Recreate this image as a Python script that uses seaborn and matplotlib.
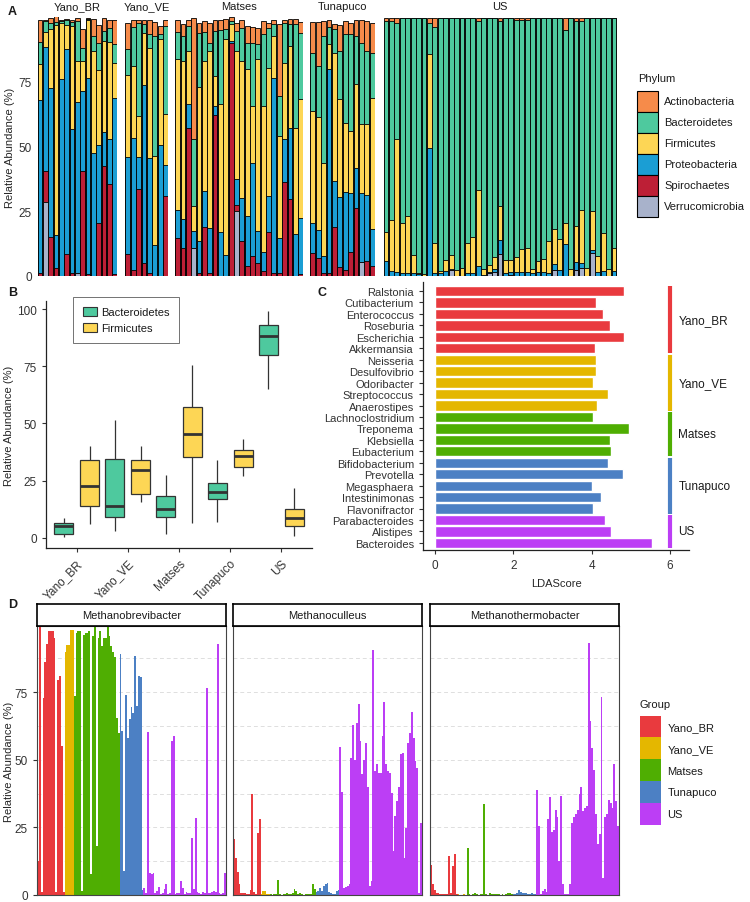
import matplotlib
matplotlib.use("Agg")
import matplotlib.pyplot as plt
from matplotlib.patches import Patch
import numpy as np
import pandas as pd
import seaborn as sns

groups = ["Yano_BR", "Yano_VE", "Matses", "Tunapuco", "US"]
group_colors = ["#E93A3E", "#E4B700", "#4FAE02", "#4C80C4", "#BC3EF5"]

phyla = ["Actinobacteria", "Bacteroidetes", "Firmicutes", "Proteobacteria", "Spirochaetes", "Verrucomicrobia"]
phylum_colors = ["#F68B4A", "#4EC99E", "#FDD655", "#1B9ED4", "#BD1F36", "#A8B2CB"]

# ---- panel A: per-sample phylum abundance (samples per group: 15, 8, 24, 12, 43)
a_sizes = [15, 8, 24, 12, 43]
verruco = ([0, 28.7, 0, 0, 0, 0, 0, 1, 0, 0, 0, 0, 0, 0, 0]
           + [0, 0, 0, 0, 0, 0, 0, 0]
           + [0, 0, 0, 11, 0, 0, 0, 0, 0, 0, 0, 25, 0, 0, 0, 0, 0, 0, 0, 0, 0, 0, 0, 0]
           + [0, 0, 0, 0, 0, 0, 0, 0, 0, 5.4, 0, 0]
           + [0, 0, 0, 0, 0, 0, 0, 0, 0, 0, 0, 0, 2.3, 0, 0, 0, 0, 0, 0, 1, 1.5, 8.4, 0, 0.5, 0, 0,
              0, 0, 0, 0, 0, 2.3, 0, 0, 0, 2.3, 3.2, 0, 8.8, 0, 0, 0, 0])
spiro = ([1, 11.8, 15, 3, 0, 8.6, 1.3, 0, 40.5, 0.6, 0, 20.6, 42.5, 35.4, 0.6]
         + [8.4, 2.3, 33.7, 4.9, 1.3, 0, 0, 30.9]
         + [14.8, 10.7, 57.3, 0, 1.3, 19, 1, 62, 0, 0, 89.8, 2.3, 13.5, 3.9, 7.7, 5.1, 1.9, 17, 1, 1.3,
            36.3, 29.6, 0, 0.6]
         + [8.8, 7, 1, 1.3, 19, 3.5, 2.3, 9.3, 26.4, 0, 5.8, 3.9]
         + [0] * 43)
proteo = ([67, 47.9, 57.7, 13, 76, 78.9, 55.3, 66, 30.9, 76, 47.6, 30, 13.1, 17.4, 68]
          + [37.6, 51.1, 12.3, 68.8, 44.1, 11.8, 50.5, 12.1]
          + [10.6, 11.2, 9, 6.4, 12.2, 13.8, 17.7, 3.6, 17, 8, 0.9, 10, 16.7, 19.3, 36.1, 12.3, 7.4, 13.9,
             75.6, 13.5, 16.5, 27.7, 16.1, 21.9]
          + [11.8, 10.6, 6.7, 78.5, 17.7, 27.1, 30.1, 22.9, 15.4, 26.8, 25.5, 14.1]
          + [5.8, 2, 1.5, 1, 1, 1, 0.6, 0, 49.5, 1.3, 1, 2, 0.5, 0, 0, 1.3, 1.3, 3.9, 0.5, 0.5, 1.3, 5.5,
             1.3, 1, 1.5, 1.5, 1.5, 1.3, 1.5, 1.5, 1, 2.2, 2.3, 12.2, 0, 3.1, 1.9, 0, 1.2, 1.5, 2, 0, 2])
firmi = ([14, 5.9, 22.8, 81, 21.5, 9.5, 39.9, 16, 11.6, 22.2, 39.3, 28.8, 35.1, 37.7, 13.8]
         + [31.5, 27.6, 15.8, 20, 42.6, 34.5, 40.9, 19.4]
         + [58.3, 61.1, 20.6, 9.6, 59.6, 50.2, 68.2, 11.6, 49.5, 83.4, 6.5, 49.6, 52.8, 56.6, 21.8, 66.3,
            56.3, 49.5, 16.1, 39.2, 29.6, 31.5, 41.2, 46]
         + [43.1, 43.9, 36.1, 9.6, 49.5, 37.6, 26.8, 23.8, 32.2, 26.4, 27.3, 50.9]
         + [11.2, 19.6, 51.3, 19.3, 22.2, 7, 0.7, 0.6, 36.1, 11.3, 1, 4.2, 5.2, 2.3, 3.2, 11.6, 13.7, 29.3,
            2.1, 2.6, 4.7, 13.1, 4.9, 4.7, 6, 9.1, 9.4, 1.5, 4.3, 5.2, 12.5, 13.8, 12.1, 8.4, 2.8, 13.9,
            20.4, 3.2, 15, 6.2, 14.7, 2.6, 8.9])
bactero = ([8.5, 4.2, 2.3, 1, 1, 2, 1.5, 15.5, 5, 0.5, 5.8, 10.6, 3.9, 5.4, 7.3]
           + [10.3, 15, 36, 3.7, 5.3, 46.2, 2, 34.1]
           + [10.6, 9.7, 9.6, 25.8, 20.9, 11.3, 3.1, 17.4, 28.5, 3.8, 1.3, 7.7, 12.9, 10.2, 24.4, 5.7,
              27.7, 15.5, 4.5, 15.5, 15.4, 8.4, 39.9, 25.5]
           + [22.3, 19.5, 48.9, 6.9, 9, 18.7, 34.1, 37.3, 18.7, 31.4, 28.3, 17.3]
           + [81.5, 76.9, 44.7, 79.2, 76.3, 91.5, 98.2, 98.9, 11.9, 83.5, 97.5, 93.3, 91.5, 97.2, 96.3,
              86.6, 84.5, 65.3, 96.9, 95.4, 92, 71.5, 93.3, 93.3, 91.5, 88.4, 88.1, 96.7, 93.7, 92.8, 86,
              81.2, 85.1, 74.4, 96.7, 79.2, 73, 96.3, 74.5, 91.8, 82.8, 96.9, 88.6])
actino = ([8.5, 0.5, 1.7, 3, 0.5, 0.4, 1, 1, 7.5, 0.2, 6.7, 7, 5.1, 3.1, 9.3]
          + [10, 2.7, 1.2, 1.6, 5.5, 5.5, 3.1, 2.5]
          + [4.5, 4.5, 2.3, 46.9, 3.8, 4.2, 7.6, 4.4, 4, 4.2, 1.5, 3, 2.9, 6.5, 6.3, 6.5, 5.2, 1.9, 1.8,
             27.7, 1, 2.2, 2.2, 4]
          + [12, 17, 5.8, 2.7, 2, 9.9, 5.2, 4.5, 6.1, 9, 11.6, 11.6]
          + [1, 1, 2, 0, 0, 0, 0, 0, 2, 3.4, 0, 0, 0, 0, 0, 0, 0, 1, 0, 0, 0, 1, 0, 0, 0.5, 0.5, 0.5, 0,
             0, 0, 0, 0, 0, 4.5, 0, 1, 1, 0, 0, 0, 0, 0, 0])

# ---- panel B: five-number summaries (min, q1, median, q3, max) per group
bact_box = [[0.5, 1.5, 5, 6.5, 8.5], [3, 9, 14, 34.5, 51.5], [1.5, 9, 12.5, 18.5, 27.5],
            [7, 17, 20, 24, 34], [65, 80, 88, 93, 99]]
firm_box = [[6, 14, 22.5, 34, 40], [15.5, 19, 29.5, 34, 40], [6.5, 35.5, 45.5, 57, 75.5],
            [27, 31, 36, 38.5, 43], [1, 5, 8.5, 12.5, 22]]

# ---- panel C: LEfSe
lda_taxa = ["Ralstonia", "Cutibacterium", "Enterococcus", "Roseburia", "Escherichia", "Akkermansia",
            "Neisseria", "Desulfovibrio", "Odoribacter", "Streptococcus", "Anaerostipes",
            "Lachnoclostridium", "Treponema", "Klebsiella", "Eubacterium",
            "Bifidobacterium", "Prevotella", "Megasphaera", "Intestinimonas", "Flavonifractor",
            "Parabacteroides", "Alistipes", "Bacteroides"]
lda_score = [4.84, 4.12, 4.28, 4.46, 4.82, 4.08, 4.11, 4.10, 4.03, 4.41, 4.13, 4.04, 4.95, 4.46, 4.50,
             4.41, 4.80, 4.01, 4.25, 4.04, 4.34, 4.50, 5.55]
lda_group = (["Yano_BR"] * 6 + ["Yano_VE"] * 5 + ["Matses"] * 4 + ["Tunapuco"] * 5 + ["US"] * 3)

# ---- panel D: methanogen abundance per sample (samples per group: 15, 5, 25, 13, 45)
d_sizes = [15, 5, 25, 13, 45]
mbrev = ([12.5, 99, 1, 73, 86, 93, 97.5, 97.5, 97.5, 95, 1, 79.5, 81, 55, 1]
         + [90, 92.4, 92.4, 98, 98]
         + [73.5, 97, 97.5, 97.5, 1.5, 96.3, 97, 97, 97.5, 7.6, 95.7, 99.5, 18, 95, 97.5, 92, 95, 95, 99.5,
            95.7, 92, 90, 88, 65.5, 60]
         + [89, 60.6, 9, 74, 58, 65, 69.7, 67.5, 88.4, 70, 81, 80.8, 2]
         + [2.7, 0.8, 60.2, 8.3, 7.6, 8, 0.9, 1.5, 3, 0.5, 0.8, 2.1, 4, 0.5, 0.6, 57.1, 58.7, 0.5, 0.6, 0.8,
            5.2, 2.7, 0.5, 1.2, 0.8, 0.6, 21.2, 2.1, 28.6, 1.2, 0.6, 0.4, 1.2, 0.8, 76.4, 0.6, 0.8, 1, 1.5,
            1.2, 92.9, 0.6, 0.5, 0.8, 8.3])
mcul = ([20.6, 13.8, 8.6, 3.9, 0.9, 0.6, 0.9, 0.5, 0.5, 2, 37.2, 1.2, 0.5, 23, 28]
        + [0.5, 1.5, 1.3, 0.5, 0.3]
        + [0.2, 0.1, 0.2, 0.3, 5.4, 0.2, 0.1, 0.3, 0.5, 0.8, 0.4, 0.2, 0.8, 2.1, 1.5, 0.3, 0.6, 0.2, 0.1,
           0.2, 0.3, 0.2, 0.5, 3.9, 2.3]
        + [1.2, 1.5, 2.7, 1.6, 3.3, 4.2, 4.6, 1.1, 0.6, 0.3, 0.4, 1.5, 1.8]
        + [54.7, 38, 2.7, 3, 3.3, 4, 50.5, 63, 50, 63.7, 70.7, 57, 44.6, 49.8, 56.3, 40, 3.3, 5.2, 90.8,
           45.8, 48.5, 45, 45, 58.7, 71.4, 48.5, 46, 45.2, 37.8, 16.3, 29.2, 34.7, 40, 52, 52.6, 13.8, 24.9,
           56.3, 60, 67.7, 58.1, 49.5, 47, 0.9, 26.7])
mtherm = ([11, 3.9, 1.7, 0.9, 0.9, 0.5, 0.5, 0.5, 0.3, 0.3, 14.4, 0.9, 10.7, 15.3, 0.3]
          + [0.2, 0.1, 0.1, 0.2, 0.1]
          + [17.5, 0.2, 0.1, 0.3, 0.9, 0.2, 0.1, 0.5, 0.2, 33.7, 0.2, 0.1, 0.9, 0.5, 0.3, 0.2, 0.4, 0.2,
             0.1, 0.2, 0.1, 0.5, 0.9, 0.6, 0.2]
          + [0.3, 0.5, 0.8, 1.8, 1.2, 0.9, 0.6, 0.8, 0.4, 0.3, 0.6, 0.2, 0.3]
          + [38.7, 25.5, 0.5, 1.5, 2.1, 1.2, 28.2, 36.2, 23.4, 23.9, 31.3, 29, 12.6, 36.8, 3.9, 0.5, 0.3,
             0.4, 3.9, 26.7, 28.8, 30, 31.3, 37.4, 39.9, 31, 32, 32.9, 93.2, 64.3, 54.4, 46.4, 30, 19, 22.4,
             73.2, 6.4, 28.8, 30, 35, 34.1, 32.3, 48.3, 34.7, 25.5])
genera = ["Methanobrevibacter", "Methanoculleus", "Methanothermobacter"]

sns.set_theme(style="white")
plt.rcParams["font.family"] = ["Liberation Sans", "DejaVu Sans"]
plt.rcParams["text.color"] = "#1a1a1a"

W, H = 750, 903
fig = plt.figure(figsize=(7.5, 9.03), dpi=100)


def box(l, t, r, b):
    return [l / W, 1 - b / H, (r - l) / W, (b - t) / H]


pal_phylum = dict(zip(phyla, phylum_colors))
pal_group = dict(zip(groups, group_colors))

# ---------------- A ----------------
stack = ["Verrucomicrobia", "Spirochaetes", "Proteobacteria", "Firmicutes", "Bacteroidetes", "Actinobacteria"]
dfa = pd.DataFrame({"Verrucomicrobia": verruco, "Spirochaetes": spiro, "Proteobacteria": proteo,
                    "Firmicutes": firmi, "Bacteroidetes": bactero, "Actinobacteria": actino})
cum = dfa[stack].cumsum(axis=1)
cum["group"] = np.repeat(groups, a_sizes)

a_x = [(37.3, 117.3), (125, 168.3), (175, 303.3), (310, 375), (383.3, 616.7)]
for k, g in enumerate(groups):
    ax = fig.add_axes(box(a_x[k][0], 18, a_x[k][1], 277))
    sub = cum[cum.group == g].reset_index(drop=True)
    for ph in stack[::-1]:
        sns.barplot(x=sub.index, y=sub[ph], color=pal_phylum[ph], saturation=1, width=0.9,
                    edgecolor="black", linewidth=0.6, errorbar=None, ax=ax)
    ax.set_xlim(-0.5, len(sub) - 0.5)
    ax.set_ylim(0, 100)
    ax.set_xticks([])
    ax.set_xlabel("")
    sns.despine(ax=ax, left=True, bottom=True)
    ax.set_title(g, fontsize=8, pad=6)
    if k == 0:
        ax.set_yticks([0, 25, 50, 75])
        ax.tick_params(axis="y", length=0, pad=4, labelsize=8.5, labelcolor="#333333")
        ax.set_ylabel("Relative Abundance (%)", fontsize=8)
        ax.yaxis.set_label_coords((15 - 37.3) / 80, 0.5)
    else:
        ax.set_yticks([])
        ax.set_ylabel("")

handles = [Patch(facecolor=c, edgecolor="black", linewidth=0.8, label=p) for p, c in zip(phyla, phylum_colors)]
fig.legend(handles=handles, loc="upper left", bbox_to_anchor=(631 / W, 1 - 86 / H),
           frameon=False, fontsize=8, handlelength=1.9, handleheight=2.53,
           labelspacing=0.0, handletextpad=0.6, borderpad=0)
fig.text(638 / W, 1 - 79 / H, "Phylum", fontsize=8, ha="left", va="center")

# ---------------- B ----------------
rows = []
for g, b, f in zip(groups, bact_box, firm_box):
    rows += [(g, "Bacteroidetes", v) for v in b]
    rows += [(g, "Firmicutes", v) for v in f]
dfb = pd.DataFrame(rows, columns=["group", "phylum", "value"])
axb = fig.add_axes(box(46, 302, 312, 549))
sns.boxplot(data=dfb, x="group", y="value", hue="phylum", order=groups,
            hue_order=["Bacteroidetes", "Firmicutes"], palette=[pal_phylum["Bacteroidetes"], pal_phylum["Firmicutes"]],
            saturation=1, width=1.02, gap=0.27, showfliers=False, showcaps=False, whis=1.5,
            linecolor="#333333", linewidth=0.9, medianprops={"linewidth": 2}, legend=False, ax=axb)
axb.set_xlim(-0.6, 4.6)
axb.set_ylim(-4.4, 103.5)
axb.set_yticks([0, 25, 50, 75, 100])
axb.set_xlabel("")
axb.set_ylabel("Relative Abundance (%)", fontsize=8)
axb.yaxis.set_label_coords((14 - 46) / 266, 0.5)
axb.tick_params(axis="both", length=3, width=0.8, color="#333333", labelsize=8.5, labelcolor="#333333",
                bottom=True, left=True)
plt.setp(axb.get_xticklabels(), rotation=45, ha="right", rotation_mode="anchor")
sns.despine(ax=axb)
for s in ["left", "bottom"]:
    axb.spines[s].set_color("#222222")
    axb.spines[s].set_linewidth(0.9)
bh = [Patch(facecolor=pal_phylum[p], edgecolor="#333333", linewidth=0.8, label=p)
      for p in ["Bacteroidetes", "Firmicutes"]]
leg = axb.legend(handles=bh, loc="upper left", bbox_to_anchor=(73 / W, 1 - 298 / H),
                 bbox_transform=fig.transFigure, borderaxespad=0, fontsize=8, frameon=True, fancybox=False,
                 edgecolor="#333333", handlelength=1.3, handleheight=0.9, labelspacing=0.5,
                 handletextpad=0.3, borderpad=0.9)
leg.get_frame().set_linewidth(0.6)

# ---------------- C ----------------
axc = fig.add_axes(box(423, 283, 689, 551))
sns.barplot(x=lda_score, y=lda_taxa, hue=lda_group, hue_order=groups, palette=pal_group, dodge=False,
            width=0.9, saturation=1, legend=False, orient="h", ax=axc)
axc.set_ylim(22.62, -0.79)
axc.set_xlim(-0.31, 6.49)
axc.set_xticks([0, 2, 4, 6])
axc.set_xlabel("LDAScore", fontsize=8, labelpad=5)
axc.set_ylabel("")
axc.tick_params(axis="both", length=3, width=0.8, color="#333333", labelsize=8.5, labelcolor="#333333",
                bottom=True, left=True)
axc.tick_params(axis="y", labelsize=8)
sns.despine(ax=axc)
for s in ["left", "bottom"]:
    axc.spines[s].set_color("#222222")
    axc.spines[s].set_linewidth(0.9)
start = 0
for g in groups:
    n = lda_group.count(g)
    axc.vlines(6, start - 0.5 + 0.05, start + n - 0.5 - 0.05, color=pal_group[g], linewidth=3, clip_on=False)
    axc.text(6.22, start + (n - 1) / 2, g, va="center", ha="left", fontsize=8.5, color="#1a1a1a", clip_on=False)
    start += n

# ---------------- D ----------------
dfd = pd.DataFrame({"sample": np.arange(sum(d_sizes)), "group": np.repeat(groups, d_sizes),
                    "Methanobrevibacter": mbrev, "Methanoculleus": mcul, "Methanothermobacter": mtherm})
d_x = [(37, 226), (233, 422), (430, 619)]
for k, gen in enumerate(genera):
    ax = fig.add_axes(box(d_x[k][0], 627, d_x[k][1], 896))
    sns.barplot(data=dfd, x="sample", y=gen, hue="group", hue_order=groups, palette=pal_group, dodge=False,
                width=1.0, saturation=1, legend=False, linewidth=0, errorbar=None, ax=ax)
    ax.set_xlim(-0.5, len(dfd) - 0.5)
    ax.set_ylim(0, 99.5)
    ax.set_xticks([])
    ax.set_xlabel("")
    ax.set_yticks([0, 25, 50, 75])
    ax.set_yticks([12.5, 37.5, 62.5, 87.5], minor=True)
    ax.set_axisbelow(True)
    ax.grid(True, which="both", axis="y", linestyle=(0, (4, 3)), color="#dedede", linewidth=0.7)
    for s in ax.spines.values():
        s.set_color("#444444")
        s.set_linewidth(0.8)
    if k == 0:
        ax.tick_params(axis="y", which="major", left=True, length=3, width=0.8, color="#333333",
                       labelsize=8.5, labelcolor="#333333")
        ax.tick_params(axis="y", which="minor", left=False)
        ax.set_ylabel("Relative Abundance (%)", fontsize=8)
        ax.yaxis.set_label_coords((14 - 37) / 189, 0.5)
    else:
        ax.tick_params(axis="y", which="both", left=False, labelleft=False)
        ax.set_ylabel("")
    strip = fig.add_axes(box(d_x[k][0], 605, d_x[k][1], 627))
    strip.set_xticks([])
    strip.set_yticks([])
    strip.set_facecolor("white")
    for s in strip.spines.values():
        s.set_color("black")
        s.set_linewidth(1.2)
    strip.text(0.5, 0.5, gen, ha="center", va="center", fontsize=8, color="#1a1a1a", transform=strip.transAxes)

gh = [Patch(facecolor=c, edgecolor="none", label=g) for g, c in zip(groups, group_colors)]
fig.legend(handles=gh, loc="upper left", bbox_to_anchor=(634 / W, 1 - 711 / H),
           frameon=False, fontsize=8, handlelength=1.9, handleheight=2.65,
           labelspacing=0.0, handletextpad=0.6, borderpad=0)
fig.text(640 / W, 1 - 705 / H, "Group", fontsize=8, ha="left", va="center")

# panel letters
for letter, (x, y) in zip("ABCD", [(8, 12), (8, 293), (318, 293), (8, 605)]):
    fig.text(x / W, 1 - y / H, letter, fontsize=9, fontweight="bold", ha="left", va="center")

fig.savefig("out.png", dpi=100, facecolor="white")
